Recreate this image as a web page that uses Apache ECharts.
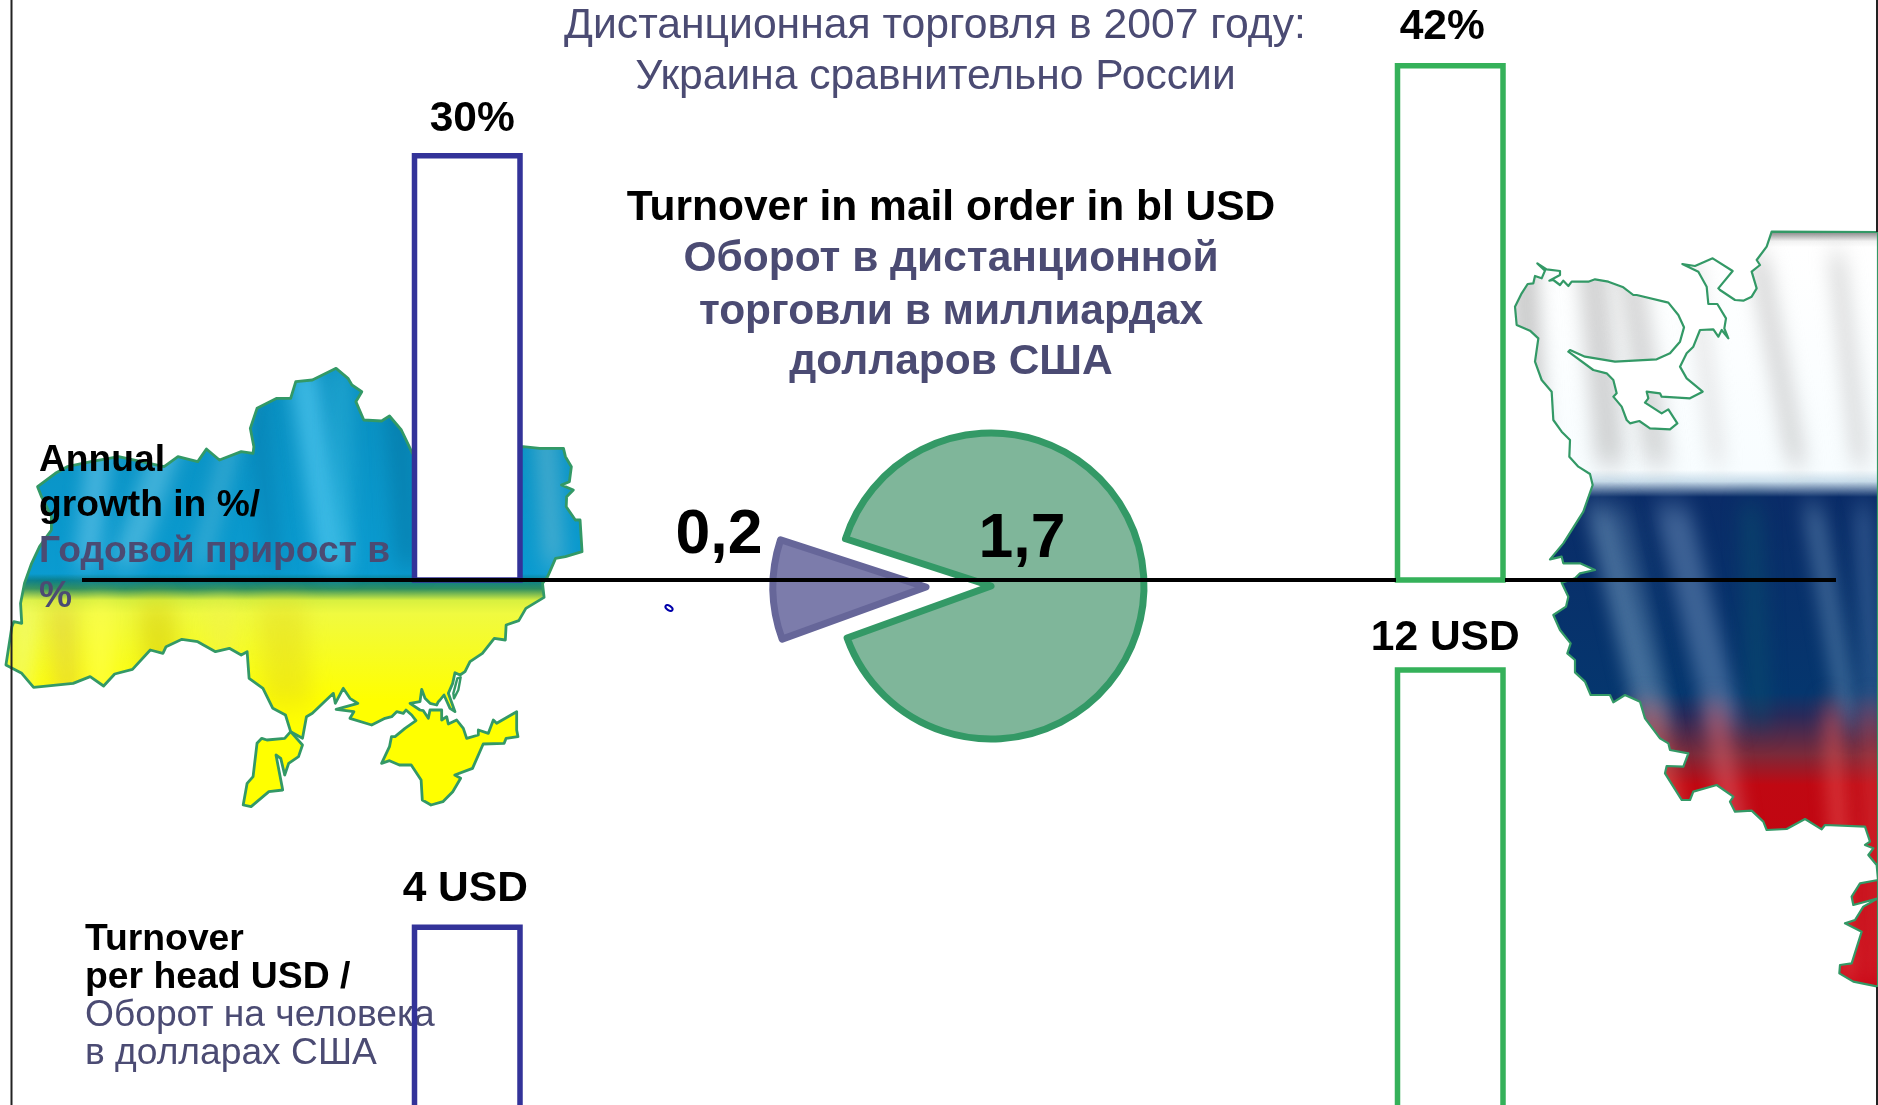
<!DOCTYPE html>
<html><head><meta charset="utf-8">
<style>html,body{margin:0;padding:0;background:#fff}#c{width:1878px;height:1105px}</style>
<script src="https://cdn.jsdelivr.net/npm/echarts@6/dist/echarts.min.js"></script>
</head><body><div id="c"></div>
<script>
// ---- data ----
const countries = ['Украина', 'Россия'];
const annualGrowthPct = [30, 42];
const turnoverPerHeadUsd = [4, 12];
const mailOrderTurnover = [
  { name: 'Россия', value: 1.7 },
  { name: 'Украина', value: 0.2 }
];
const uaNorth = [[15,945],[30,830],[35,815],[55,820],[52,760],[62,700],[80,640],[100,590],[130,540],[130,500],[105,440],[95,410],[140,370],[170,350],[230,335],[300,320],[415,350],[450,320],[500,335],[522,297],[555,330],[610,305],[640,310],[642,290],[633,235],[650,175],[700,145],[735,145],[748,95],[790,90],[850,55],[880,85],[890,105],[915,125],[900,155],[920,210],[965,213],[985,198],[1015,240],[1035,290],[1043,310],[1323,290],[1365,295],[1425,295],[1430,320],[1445,350],[1440,395],[1420,405],[1450,420],[1433,440],[1432,470],[1455,510],[1467,510],[1472,605],[1430,620],[1405,625],[1385,680],[1372,700],[1376,742],[1330,775],[1312,812],[1280,825],[1278,870],[1250,865],[1220,910]];
const uaSivash = [[300,5],[285,35],[270,45],[255,38],[248,70],[235,100],[255,155],[240,145],[222,105],[210,120],[205,125],[200,135],[180,130],[165,115],[155,88],[150,125],[120,130],[150,150],[160,152],[175,175],[180,150],[215,150],[215,180],[230,170],[235,192],[260,180],[280,205],[290,235],[325,225],[325,210],[355,220],[370,180],[380,190],[440,155],[440,210]];
const uaCrimeaSouth = [[1310,1160],[1280,1165],[1275,1180],[1222,1182],[1195,1255],[1150,1275],[1165,1285],[1145,1325],[1120,1355],[1090,1365],[1068,1350],[1065,1290],[1040,1245],[1010,1245],[985,1232],[965,1240],[985,1190],[990,1160]];
const uaIsthmus = [[75,230],[105,205],[138,182],[125,165],[108,150],[100,160],[80,155],[65,170],[45,175],[5,195]];
const uaWestCoast = [[885,1105],[895,1085],[850,1078],[905,1060],[885,1045],[868,1015],[848,1060],[843,1030],[790,1090],[775,1100],[765,1165],[735,1145],[722,1095],[690,1075],[665,1015],[630,985],[625,905],[610,915],[580,895],[545,905],[500,875],[460,868],[420,890],[412,910],[380,900],[335,958],[290,972],[262,1008],[228,980],[185,1000],[85,1012],[55,970]];
const uaSpitLagoon = [[262,55],[272,52],[265,90],[252,115],[250,100]];
const uaOdessa = [[735,1145],[765,1185],[755,1220],[730,1240],[720,1275],[710,1225],[698,1215],[715,1320],[680,1325],[635,1370],[615,1365],[625,1300],[640,1280],[650,1180],[662,1165],[675,1170],[720,1165]];
const ruNorth = [[875,65],[860,110],[830,150],[840,165],[815,185],[830,235],[815,260],[790,272],[765,270],[720,240],[715,235],[758,183],[698,145],[645,168],[607,162],[655,185],[680,230],[685,282],[712,282],[738,325],[733,355],[745,385],[725,360],[715,380],[700,358],[660,360],[640,410],[620,430],[600,470],[620,505],[668,545],[630,565],[545,560],[540,550],[500,545],[505,565],[495,578],[545,610],[565,598],[592,640],[570,658],[510,655],[478,633],[450,640],[440,630],[425,590],[400,560],[410,550],[400,510],[380,490],[340,480],[265,425],[270,420],[315,440],[405,455],[530,448],[570,430],[600,395],[612,352],[595,315],[565,278],[470,255],[460,255],[430,232],[385,215],[345,208],[325,215],[275,215],[265,228],[250,212],[240,225],[220,210],[208,212],[240,195],[240,183],[200,178],[172,160],[195,182],[185,205],[165,198],[160,220],[143,222],[125,250],[105,290],[110,345],[150,362],[175,385],[165,455],[185,510],[215,545],[220,630],[245,665],[270,690],[268,740],[295,770],[330,792],[338,825],[310,905],[250,1000],[210,1048],[245,1040],[250,1060],[300,1060],[345,1080],[300,1090],[285,1105],[245,1118],[265,1160],[258,1190],[220,1215],[240,1260],[272,1300],[262,1330]];
const ruSouth = [[225,60],[225,97],[255,125],[272,165],[330,165],[340,187],[375,165],[420,185],[435,235],[480,295],[505,310],[510,330],[565,340],[550,380],[500,378],[495,400],[520,440],[545,480],[570,480],[580,455],[650,435],[700,470],[690,485],[705,515],[755,512],[790,545],[800,570],[860,567],[915,537],[965,568],[975,555],[1095,560],[1110,605],[1095,615],[1120,625],[1105,645],[1130,675],[1134,720],[1080,730],[1055,770],[1060,795],[1134,775],[1090,800],[1065,840],[1035,850],[1085,875],[1055,970],[1020,975],[1018,1000],[1060,1025],[1134,1040]];

const NAVY = '#4b4b73', FF = '"Liberation Sans", Arial, sans-serif';

function texture(paint){
  const cv = document.createElement('canvas');
  cv.width = 1878; cv.height = 1105;
  paint(cv.getContext('2d'));
  return {image: cv, repeat: 'no-repeat'};
}
function band(ctx, y0, y1, stops){
  const g = ctx.createLinearGradient(0,y0,0,y1);
  stops.forEach(s => g.addColorStop(s[0], s[1]));
  ctx.fillStyle = g; ctx.fillRect(0,0,1878,1105);
}
// soft slanted light streaks that fade out at both ends of their band
function streaks(ctx, y0, y1, blur, list){
  ctx.save();
  ctx.filter = 'blur(' + blur + 'px)';
  list.forEach(s => {
    const g = ctx.createLinearGradient(0,y0,0,y1);
    const f = Math.min(0.2, 30/(y1-y0));
    g.addColorStop(0,'rgba('+s[3]+',0)');
    g.addColorStop(f,'rgba('+s[3]+','+s[4]+')');
    g.addColorStop(1-f,'rgba('+s[3]+','+s[4]+')');
    g.addColorStop(1,'rgba('+s[3]+',0)');
    ctx.strokeStyle = g; ctx.lineWidth = s[2];
    ctx.beginPath(); ctx.moveTo(s[0], y0); ctx.lineTo(s[1], y1); ctx.stroke();
  });
  ctx.restore();
}
const uaTex = texture(ctx => {
  band(ctx, 368, 700, [[0,'#0a8fc0'],[0.62,'#0a9bd0'],[0.64,'#0b7f8c'],[0.665,'#2f8f60'],[0.70,'#d8f040'],[0.74,'#f0fa40'],[1,'#ffff00']]);
  streaks(ctx, 350, 582, 9, [
    [300,335,30,'80,200,240',.7],[200,120,28,'90,190,225',.7],[255,195,16,'100,190,220',.5],
    [110,85,24,'110,200,235',.6],[395,410,28,'0,90,130',.3],[250,275,16,'0,90,140',.25],
    [540,555,22,'120,190,210',.5],[340,345,18,'60,190,225',.45]
  ]);
  streaks(ctx, 590, 720, 10, [
    [30,15,20,'240,250,120',.8],[60,70,26,'215,190,70',.45],[155,165,36,'210,200,10',.5],
    [100,100,22,'255,255,80',.7],[280,290,46,'225,215,30',.45],[220,225,24,'240,240,80',.5]
  ]);
});
const ruTex = texture(ctx => {
  band(ctx, 232, 1000, [[0,'#888888'],[0.012,'#f2f2f2'],[0.02,'#ffffff'],[0.31,'#f8fdff'],[0.325,'#c8dcea'],[0.345,'#0a2c68'],[0.60,'#05366e'],[0.63,'#2a2a5a'],[0.68,'#7a2a3a'],[0.72,'#c00812'],[1,'#c80010']]);
  streaks(ctx, 238, 480, 9, [
    [1522,1535,28,'170,170,170',.6],[1590,1612,30,'170,170,170',.5],[1625,1660,28,'180,180,180',.5],
    [1755,1800,22,'185,185,185',.5],[1835,1862,18,'190,190,190',.5],[1690,1720,16,'210,210,210',.5]
  ]);
  streaks(ctx, 490, 740, 9, [
    [1596,1656,28,'120,160,195',.55],[1668,1728,34,'105,140,185',.55],[1810,1852,20,'110,150,190',.5],
    [1620,1670,12,'130,170,200',.3],[1750,1760,22,'10,80,110',.5],[1862,1875,16,'100,140,190',.45]
  ]);
  streaks(ctx, 690, 1000, 9, [
    [1645,1700,32,'230,110,100',.5],[1712,1760,24,'220,100,110',.55],[1830,1850,18,'235,90,90',.55],
    [1870,1875,18,'225,80,80',.4]
  ]);
});

const zoomA = p => [p[0]/2.529, 350 + p[1]/3];
const zoomB = p => [1480 + p[0]/3, 210 + p[1]/3];
const zoomC = p => [1500 + p[0]/3, 640 + p[1]/3];
const zoomD = p => [370 + p[0]/3, 660 + p[1]/3];

function poly(points, fill, lw){
  return {type:'polygon', z:1, silent:true, shape:{points}, style:{fill, stroke:'#339966', lineWidth:lw, lineJoin:'round'}};
}
function txt(text, x, y, size, weight, fill, align, z){
  return {type:'text', z: z===undefined?6:z, silent:true, style:{
    text, x, y, fill, font: `${weight} ${size}px ${FF}`, textAlign: align||'center', textVerticalAlign:'middle'}};
}
function line(x1,y1,x2,y2,w,color){
  return {type:'line', z:5, silent:true, shape:{x1,y1,x2,y2}, style:{stroke:color, lineWidth:w}};
}

const graphicEls = [
  poly([].concat(uaNorth.map(zoomA), uaSivash.map(zoomD), uaCrimeaSouth.map(zoomA), uaIsthmus.map(zoomD), uaWestCoast.map(zoomA)), uaTex, 2.8),
  poly(uaSpitLagoon.map(zoomD), '#fff', 2.4),
  poly(uaOdessa.map(zoomA), uaTex, 2.8),
  poly(ruNorth.map(zoomB).concat(ruSouth.map(zoomC), [[1878,987],[1878,232]]), ruTex, 2.2),

  line(11.5,0,11.5,1105,2,'#222'),
  line(1877,0,1877,232,2,'#222'),
  line(1877,987,1877,1105,2,'#222'),
  line(82,580,1396,580,4,'#000'),
  line(1505,580,1836,580,4,'#000'),

  {type:'ellipse', z:5, silent:true, shape:{cx:669,cy:608,rx:4,ry:2.2}, rotation:-0.6, originX:669, originY:608,
   style:{fill:'#fff',stroke:'#0000aa',lineWidth:2}},

  txt('Дистанционная торговля в 2007 году:',935,26.5,42.7,'normal',NAVY),
  txt('Украина сравнительно России',935.5,77,42.6,'normal',NAVY),
  txt('Turnover in mail order in bl USD',951,208.5,42.5,'bold','#000'),
  txt('Оборот в дистанционной',951,259.5,42.5,'bold',NAVY),
  txt('торговли в миллиардах',951,312,42.5,'bold',NAVY),
  txt('долларов США',951,362.5,42.5,'bold',NAVY),

  txt('Annual',39,461,37.2,'bold','#000','left'),
  txt('growth in %/',39,506,37.2,'bold','#000','left'),
  txt('Годовой прирост в',39,552,37.2,'bold',NAVY,'left'),
  txt('%',39,597,37.2,'bold',NAVY,'left'),

  txt('Turnover',85,940,37.3,'bold','#000','left',1),
  txt('per head USD /',85,978,37.3,'bold','#000','left',1),
  txt('Оборот на человека',85,1016,37.2,'normal',NAVY,'left',1),
  txt('в долларах США',85,1054,37.2,'normal',NAVY,'left',1),

  txt(String(mailOrderTurnover[1].value).replace('.',','),719,536,62.5,'bold','#000'),
  txt(String(mailOrderTurnover[0].value).replace('.',','),1022,540,62.5,'bold','#000')
];

const barColors = ['#333399', '#35b15a'];
const BAR_W = 105.5;
// nudges of the value labels from the bar centre and above the bar top
const growthLabelDx = [5, -8], headLabelDx = [-2, -5];
const growthLabelGap = [36, 38], headLabelGap = [38, 32];

function barItem(axisEnd, suffix, dx, gap, filled){
  return function(params, api){
    const i = api.value(0), v = api.value(1);
    const top = api.coord([i, v]);
    const base = api.coord([i, axisEnd]);
    const yTop = Math.min(top[1], base[1]), yBot = Math.max(top[1], base[1]);
    return {type:'group', children:[
      {type:'rect', shape:{x:top[0]-BAR_W/2, y:yTop, width:BAR_W, height:yBot-yTop},
       style:{fill: filled?'#fff':'none', stroke:barColors[i], lineWidth:5.5}},
      {type:'text', style:{text:v+suffix, x:top[0]+dx[i], y:yTop-gap[i], fill:'#000',
        font:`bold 42.5px ${FF}`, textAlign:'center', textVerticalAlign:'middle'}}
    ]};
  };
}

const GROWTH_MIN = -26.57, HEAD_MIN = -1.68;

const option = {
  animation:false,
  backgroundColor:'#fff',
  graphic:{elements:graphicEls},
  grid:[
    {left:467.25, width:983, top:0, height:580, outerBoundsMode:'none'},
    {left:467.25, width:983, top:580, height:530, outerBoundsMode:'none'}
  ],
  xAxis:[
    {gridIndex:0, type:'category', data:countries, boundaryGap:false, show:false},
    {gridIndex:1, type:'category', data:countries, boundaryGap:false, show:false}
  ],
  yAxis:[
    {gridIndex:0, type:'value', min:GROWTH_MIN, max:50.76, show:false, splitLine:{show:false}},
    {gridIndex:1, type:'value', min:HEAD_MIN, max:14.8, show:false, splitLine:{show:false}}
  ],
  series:[
    {type:'custom', name:'Annual growth', z:3, xAxisIndex:0, yAxisIndex:0, clip:false, silent:true,
     encode:{x:0,y:1}, data:annualGrowthPct.map((v,i)=>[i,v]),
     renderItem:barItem(GROWTH_MIN,'%',growthLabelDx,growthLabelGap,true)},
    {type:'custom', name:'Turnover per head', z:3, xAxisIndex:1, yAxisIndex:1, clip:false, silent:true,
     encode:{x:0,y:1}, data:turnoverPerHeadUsd.map((v,i)=>[i,v]),
     renderItem:barItem(HEAD_MIN,' USD',headLabelDx,headLabelGap,false)},
    {type:'pie', z:3, silent:true, center:[991,586], radius:[0,153], startAngle:162, clockwise:true,
     selectedMode:'single', selectedOffset:65, label:{show:false}, labelLine:{show:false},
     emphasis:{disabled:true},
     data:[
       {name:mailOrderTurnover[0].name, value:mailOrderTurnover[0].value,
        itemStyle:{color:'#7fb69a',borderColor:'#339966',borderWidth:7},
        select:{itemStyle:{color:'#7fb69a',borderColor:'#339966',borderWidth:7}}},
       {name:mailOrderTurnover[1].name, value:mailOrderTurnover[1].value, selected:true,
        itemStyle:{color:'#7c7cab',borderColor:'#666699',borderWidth:7},
        select:{itemStyle:{color:'#7c7cab',borderColor:'#666699',borderWidth:7}}}
     ]}
  ]
};
echarts.init(document.getElementById('c'),null,{renderer:'canvas'}).setOption(option);
</script></body></html>
